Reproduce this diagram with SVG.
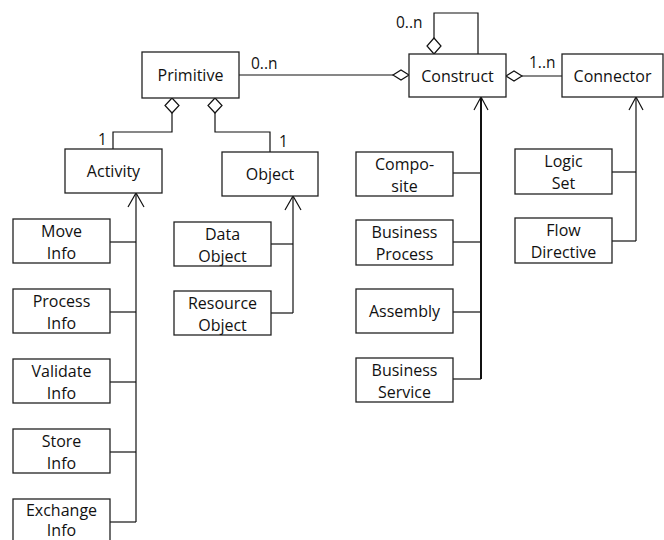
<svg xmlns="http://www.w3.org/2000/svg" width="664" height="540" viewBox="0 0 664 540">
<style>
.box{fill:#fff;stroke:#222;stroke-width:1.3}
.t{font-family:"Open Sans","Liberation Sans",Arial,sans-serif;font-size:16px;fill:#111;text-anchor:middle}
.m{font-family:"Open Sans","Liberation Sans",Arial,sans-serif;font-size:15.5px;fill:#111}
.ln{fill:none;stroke:#111;stroke-width:1.2}
.thick{fill:none;stroke:#111;stroke-width:2}
.dia{fill:#fff;stroke:#111;stroke-width:1.2}
</style>
<rect width="664" height="540" fill="#fff"/>
<g id="connectors">
  <line class="ln" x1="239" y1="75" x2="393" y2="75"/>
  <polygon class="dia" points="409,75 401,70 393,75 401,80"/>
  <text class="m" x="251" y="69">0..n</text>
  <polyline class="ln" points="434,38 434,13 478,13 478,54"/>
  <polygon class="dia" points="434,54 441,46 434,38 427,46"/>
  <text class="m" x="396" y="28">0..n</text>
  <line class="ln" x1="522" y1="76" x2="562" y2="76"/>
  <polygon class="dia" points="506,76 514,71 522,76 514,81"/>
  <text class="m" x="529" y="68">1..n</text>
  <polyline class="ln" points="172,113 172,132 113,132 113,149"/>
  <polygon class="dia" points="172,98 179,105.5 172,113 165,105.5"/>
  <text class="m" x="98" y="145">1</text>
  <polyline class="ln" points="215,113 215,132 270,132 270,152"/>
  <polygon class="dia" points="215,98 222,105.5 215,113 208,105.5"/>
  <text class="m" x="279" y="147">1</text>
  <polyline class="ln" points="136,193 136,522"/>
  <polyline class="ln" points="128,207 136,193 144,207"/>
  <line class="ln" x1="110" y1="242" x2="136" y2="242"/>
  <line class="ln" x1="110" y1="312" x2="136" y2="312"/>
  <line class="ln" x1="110" y1="382" x2="136" y2="382"/>
  <line class="ln" x1="110" y1="452" x2="136" y2="452"/>
  <line class="ln" x1="110" y1="522" x2="136" y2="522"/>
  <polyline class="ln" points="293,196 293,313"/>
  <polyline class="ln" points="285,210 293,196 301,210"/>
  <line class="ln" x1="271" y1="244" x2="293" y2="244"/>
  <line class="ln" x1="271" y1="313" x2="293" y2="313"/>
  <polyline class="thick" points="481,97 481,379"/>
  <polyline class="ln" points="474,110 481,97 488,110"/>
  <line class="ln" x1="453" y1="173" x2="481" y2="173"/>
  <line class="ln" x1="453" y1="242" x2="481" y2="242"/>
  <line class="ln" x1="453" y1="312" x2="481" y2="312"/>
  <line class="ln" x1="453" y1="379" x2="481" y2="379"/>
  <polyline class="ln" points="636,97 636,241"/>
  <polyline class="ln" points="629,110 636,97 643,110"/>
  <line class="ln" x1="612" y1="172" x2="636" y2="172"/>
  <line class="ln" x1="612" y1="241" x2="636" y2="241"/>
</g>
<g id="primitive"><rect class="box" x="142" y="52" width="97" height="46"/><text class="t" x="190.5" y="81">Primitive</text></g>
<g id="construct"><rect class="box" x="409" y="54" width="97" height="43"/><text class="t" x="457.5" y="82">Construct</text></g>
<g id="connector"><rect class="box" x="562" y="54" width="101" height="43"/><text class="t" x="612.5" y="82">Connector</text></g>
<g id="activity"><rect class="box" x="65" y="149" width="97" height="44"/><text class="t" x="113.5" y="177">Activity</text></g>
<g id="object"><rect class="box" x="222" y="152" width="96" height="44"/><text class="t" x="270" y="180">Object</text></g>
<g id="move-info"><rect class="box" x="13" y="219" width="97" height="44"/><text class="t" x="61.5" y="237">Move</text><text class="t" x="61.5" y="259">Info</text></g>
<g id="process-info"><rect class="box" x="13" y="289" width="97" height="44"/><text class="t" x="61.5" y="307">Process</text><text class="t" x="61.5" y="329">Info</text></g>
<g id="validate-info"><rect class="box" x="13" y="359" width="97" height="44"/><text class="t" x="61.5" y="377">Validate</text><text class="t" x="61.5" y="399">Info</text></g>
<g id="store-info"><rect class="box" x="13" y="429" width="97" height="44"/><text class="t" x="61.5" y="447">Store</text><text class="t" x="61.5" y="469">Info</text></g>
<g id="exchange-info"><rect class="box" x="13" y="499" width="97" height="44"/><text class="t" x="61.5" y="516">Exchange</text><text class="t" x="61.5" y="536">Info</text></g>
<g id="data-object"><rect class="box" x="174" y="222" width="97" height="44"/><text class="t" x="222.5" y="240">Data</text><text class="t" x="222.5" y="262">Object</text></g>
<g id="resource-object"><rect class="box" x="174" y="291" width="97" height="44"/><text class="t" x="222.5" y="309">Resource</text><text class="t" x="222.5" y="331">Object</text></g>
<g id="composite"><rect class="box" x="356" y="152" width="97" height="44"/><text class="t" x="404.5" y="170">Compo-</text><text class="t" x="404.5" y="192">site</text></g>
<g id="business-process"><rect class="box" x="356" y="220" width="97" height="45"/><text class="t" x="404.5" y="238">Business</text><text class="t" x="404.5" y="260">Process</text></g>
<g id="assembly"><rect class="box" x="356" y="289" width="97" height="44"/><text class="t" x="404.5" y="317">Assembly</text></g>
<g id="business-service"><rect class="box" x="356" y="358" width="97" height="44"/><text class="t" x="404.5" y="376">Business</text><text class="t" x="404.5" y="398">Service</text></g>
<g id="logic-set"><rect class="box" x="515" y="149" width="97" height="45"/><text class="t" x="563.5" y="167">Logic</text><text class="t" x="563.5" y="189">Set</text></g>
<g id="flow-directive"><rect class="box" x="515" y="218" width="97" height="45"/><text class="t" x="563.5" y="236">Flow</text><text class="t" x="563.5" y="258">Directive</text></g>
</svg>
